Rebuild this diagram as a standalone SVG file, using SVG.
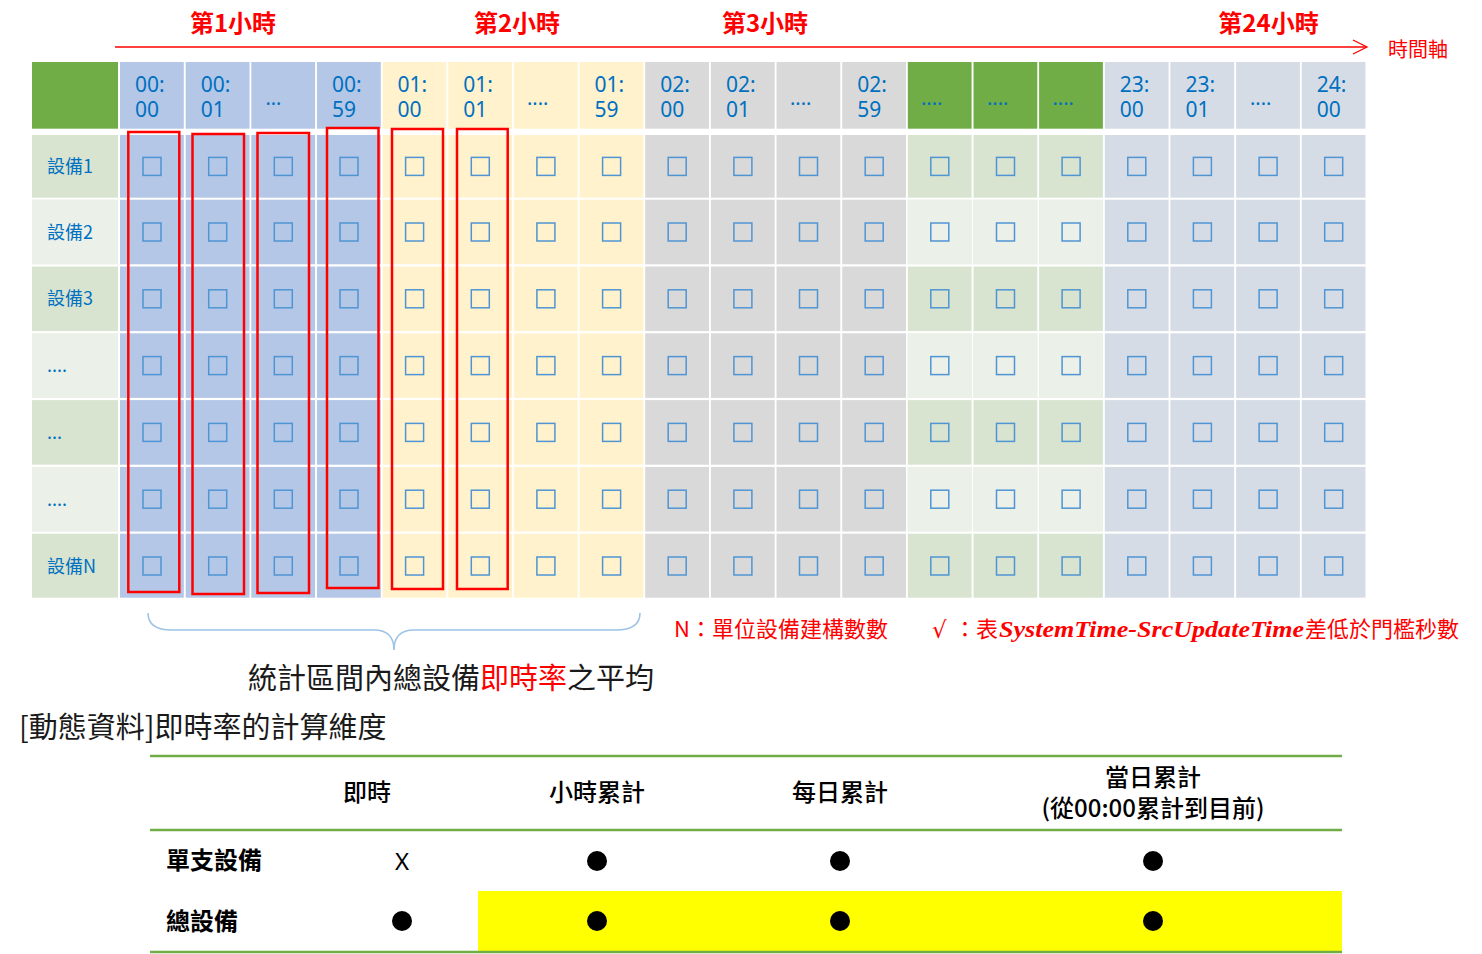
<svg xmlns="http://www.w3.org/2000/svg" xmlns:xlink="http://www.w3.org/1999/xlink" width="1482" height="954" viewBox="0 0 1482 954">
<style>
.cjk{font-family:"Noto Sans CJK TC","Noto Sans",sans-serif}
.hd{font-family:"Noto Sans","Noto Sans CJK TC",sans-serif;font-size:21px;fill:#0070C0}
.dots{font-family:"Noto Sans",sans-serif;font-size:20px;fill:#0070C0}
.lbl{font-family:"Noto Sans CJK TC","Noto Sans",sans-serif;font-size:18px;fill:#0070C0}
.hour{font-family:"Noto Sans CJK TC",sans-serif;font-size:24px;font-weight:bold;fill:#FF0000;text-anchor:middle}
.red{fill:#FF0000}
.b{fill:#B4C7E7}.y{fill:#FFF2CC}.g{fill:#D9D9D9}.s{fill:#D6DCE5}.gh{fill:#70AD47}.gd{fill:#D8E4D0}.gl{fill:#EBF0E9}
.cb{fill:none;stroke:#4F95D3;stroke-width:1.5}
.rb{fill:none;stroke:#FF0000;stroke-width:2.5}
.th{font-family:"Noto Sans CJK TC",sans-serif;font-size:24px;font-weight:500;fill:#000;text-anchor:middle}
.rl{font-family:"Noto Sans CJK TC",sans-serif;font-size:24px;font-weight:bold;fill:#000}
.gline{stroke:#70AD47;stroke-width:2.5}
</style>
<defs>
<g id="cbcol">
<rect class="cb" x="-9" y="157.4" width="18" height="18"/>
<rect class="cb" x="-9" y="223" width="18" height="18"/>
<rect class="cb" x="-9" y="289.8" width="18" height="18"/>
<rect class="cb" x="-9" y="356.6" width="18" height="18"/>
<rect class="cb" x="-9" y="423.4" width="18" height="18"/>
<rect class="cb" x="-9" y="490.2" width="18" height="18"/>
<rect class="cb" x="-9" y="557" width="18" height="18"/>
</g>
</defs>
<rect width="1482" height="954" fill="#FFFFFF"/>

<!-- time axis -->
<g id="axis">
<text class="hour" x="233" y="32">第1小時</text>
<text class="hour" x="517" y="32">第2小時</text>
<text class="hour" x="765" y="32">第3小時</text>
<text class="hour" x="1268.5" y="32">第24小時</text>
<line x1="115" y1="47" x2="1366" y2="47" stroke="#FF0000" stroke-width="1.3"/>
<path d="M1353,40 L1367,47 L1353,54" fill="none" stroke="#FF0000" stroke-width="1.3"/>
<text class="cjk red" x="1388" y="57" font-size="20">時間軸</text>
</g>

<!-- header row -->
<g id="header">
<rect class="gh" x="32" y="62" width="86" height="66.7"/>
<rect class="b" x="120" y="62" width="63.8" height="66.7"/>
<rect class="b" x="185.7" y="62" width="63.8" height="66.7"/>
<rect class="b" x="251.3" y="62" width="63.8" height="66.7"/>
<rect class="b" x="317" y="62" width="63.8" height="66.7"/>
<rect class="y" x="382.6" y="62" width="63.8" height="66.7"/>
<rect class="y" x="448.3" y="62" width="63.8" height="66.7"/>
<rect class="y" x="513.9" y="62" width="63.8" height="66.7"/>
<rect class="y" x="579.6" y="62" width="63.8" height="66.7"/>
<rect class="g" x="645.2" y="62" width="63.8" height="66.7"/>
<rect class="g" x="710.9" y="62" width="63.8" height="66.7"/>
<rect class="g" x="776.5" y="62" width="63.8" height="66.7"/>
<rect class="g" x="842.2" y="62" width="63.8" height="66.7"/>
<rect class="gh" x="907.8" y="62" width="63.8" height="66.7"/>
<rect class="gh" x="973.5" y="62" width="63.8" height="66.7"/>
<rect class="gh" x="1039.1" y="62" width="63.8" height="66.7"/>
<rect class="s" x="1104.8" y="62" width="63.8" height="66.7"/>
<rect class="s" x="1170.4" y="62" width="63.8" height="66.7"/>
<rect class="s" x="1236.1" y="62" width="63.8" height="66.7"/>
<rect class="s" x="1301.7" y="62" width="63.8" height="66.7"/>
<text class="hd" x="135" y="92">00:</text><text class="hd" x="135" y="117">00</text>
<text class="hd" x="200.7" y="92">00:</text><text class="hd" x="200.7" y="117">01</text>
<text class="dots" x="265.5" y="105">…</text>
<text class="hd" x="332" y="92">00:</text><text class="hd" x="332" y="117">59</text>
<text class="hd" x="397.6" y="92">01:</text><text class="hd" x="397.6" y="117">00</text>
<text class="hd" x="463.3" y="92">01:</text><text class="hd" x="463.3" y="117">01</text>
<text class="dots" x="527" y="105">....</text>
<text class="hd" x="594.6" y="92">01:</text><text class="hd" x="594.6" y="117">59</text>
<text class="hd" x="660.2" y="92">02:</text><text class="hd" x="660.2" y="117">00</text>
<text class="hd" x="725.9" y="92">02:</text><text class="hd" x="725.9" y="117">01</text>
<text class="dots" x="790" y="105">....</text>
<text class="hd" x="857.2" y="92">02:</text><text class="hd" x="857.2" y="117">59</text>
<text class="dots" x="921" y="105">....</text>
<text class="dots" x="987" y="105">....</text>
<text class="dots" x="1052.5" y="105">....</text>
<text class="hd" x="1119.8" y="92">23:</text><text class="hd" x="1119.8" y="117">00</text>
<text class="hd" x="1185.4" y="92">23:</text><text class="hd" x="1185.4" y="117">01</text>
<text class="dots" x="1250" y="105">....</text>
<text class="hd" x="1316.7" y="92">24:</text><text class="hd" x="1316.7" y="117">00</text>
</g>

<!-- body grid -->
<g id="body">
<rect class="gd" x="32" y="135" width="86" height="462.7"/>
<rect class="b" x="120" y="135" width="63.8" height="462.7"/>
<rect class="b" x="185.7" y="135" width="63.8" height="462.7"/>
<rect class="b" x="251.3" y="135" width="63.8" height="462.7"/>
<rect class="b" x="317" y="135" width="63.8" height="462.7"/>
<rect class="y" x="382.6" y="135" width="63.8" height="462.7"/>
<rect class="y" x="448.3" y="135" width="63.8" height="462.7"/>
<rect class="y" x="513.9" y="135" width="63.8" height="462.7"/>
<rect class="y" x="579.6" y="135" width="63.8" height="462.7"/>
<rect class="g" x="645.2" y="135" width="63.8" height="462.7"/>
<rect class="g" x="710.9" y="135" width="63.8" height="462.7"/>
<rect class="g" x="776.5" y="135" width="63.8" height="462.7"/>
<rect class="g" x="842.2" y="135" width="63.8" height="462.7"/>
<rect class="gd" x="907.8" y="135" width="63.8" height="462.7"/>
<rect class="gd" x="973.5" y="135" width="63.8" height="462.7"/>
<rect class="gd" x="1039.1" y="135" width="63.8" height="462.7"/>
<rect class="s" x="1104.8" y="135" width="63.8" height="462.7"/>
<rect class="s" x="1170.4" y="135" width="63.8" height="462.7"/>
<rect class="s" x="1236.1" y="135" width="63.8" height="462.7"/>
<rect class="s" x="1301.7" y="135" width="63.8" height="462.7"/>
<!-- light banded rows -->
<rect class="gl" x="32" y="199.7" width="86" height="64.6"/>
<rect class="gl" x="907.8" y="199.7" width="63.8" height="64.6"/>
<rect class="gl" x="973.5" y="199.7" width="63.8" height="64.6"/>
<rect class="gl" x="1039.1" y="199.7" width="63.8" height="64.6"/>
<rect class="gl" x="32" y="333.3" width="86" height="64.6"/>
<rect class="gl" x="907.8" y="333.3" width="63.8" height="64.6"/>
<rect class="gl" x="973.5" y="333.3" width="63.8" height="64.6"/>
<rect class="gl" x="1039.1" y="333.3" width="63.8" height="64.6"/>
<rect class="gl" x="32" y="466.9" width="86" height="64.6"/>
<rect class="gl" x="907.8" y="466.9" width="63.8" height="64.6"/>
<rect class="gl" x="973.5" y="466.9" width="63.8" height="64.6"/>
<rect class="gl" x="1039.1" y="466.9" width="63.8" height="64.6"/>
<!-- row gaps -->
<g fill="#FFFFFF">
<rect x="30" y="197.7" width="1340" height="2"/>
<rect x="30" y="264.3" width="1340" height="2.2"/>
<rect x="30" y="331.1" width="1340" height="2.2"/>
<rect x="30" y="397.9" width="1340" height="2.2"/>
<rect x="30" y="464.7" width="1340" height="2.2"/>
<rect x="30" y="531.5" width="1340" height="2.2"/>
</g>
<!-- row labels -->
<text class="lbl" x="47" y="172.5">設備1</text>
<text class="lbl" x="47" y="238.5">設備2</text>
<text class="lbl" x="47" y="305">設備3</text>
<text class="lbl" x="47" y="372">....</text>
<text class="lbl" x="47" y="439">...</text>
<text class="lbl" x="47" y="505.5">....</text>
<text class="lbl" x="47" y="572.5">設備N</text>
<!-- checkboxes -->
<use xlink:href="#cbcol" x="152"/>
<use xlink:href="#cbcol" x="217.7"/>
<use xlink:href="#cbcol" x="283.3"/>
<use xlink:href="#cbcol" x="349"/>
<use xlink:href="#cbcol" x="414.6"/>
<use xlink:href="#cbcol" x="480.3"/>
<use xlink:href="#cbcol" x="545.9"/>
<use xlink:href="#cbcol" x="611.6"/>
<use xlink:href="#cbcol" x="677.2"/>
<use xlink:href="#cbcol" x="742.9"/>
<use xlink:href="#cbcol" x="808.5"/>
<use xlink:href="#cbcol" x="874.2"/>
<use xlink:href="#cbcol" x="939.8"/>
<use xlink:href="#cbcol" x="1005.5"/>
<use xlink:href="#cbcol" x="1071.1"/>
<use xlink:href="#cbcol" x="1136.8"/>
<use xlink:href="#cbcol" x="1202.4"/>
<use xlink:href="#cbcol" x="1268.1"/>
<use xlink:href="#cbcol" x="1333.7"/>
</g>

<!-- red selection boxes -->
<g id="selections">
<rect class="rb" x="128.3" y="132" width="51" height="460"/>
<rect class="rb" x="192.5" y="134" width="51.5" height="460"/>
<rect class="rb" x="257.5" y="133" width="51.5" height="460"/>
<rect class="rb" x="327" y="128" width="51.5" height="460"/>
<rect class="rb" x="392" y="129" width="51" height="460"/>
<rect class="rb" x="457" y="129" width="50.7" height="460"/>
</g>

<!-- brace and notes -->
<g id="brace">
<path d="M148,613 Q148,630 172,630 L374,630 Q394,630 394,650 Q394,630 414,630 L616,630 Q640,630 640,613" fill="none" stroke="#9DC3E6" stroke-width="1.6"/>
<text class="cjk" x="248" y="689" font-size="29" fill="#1A1A1A">統計區間內總設備<tspan fill="#FF0000">即時率</tspan>之平均</text>
</g>
<g id="legend">
<text class="cjk red" x="674" y="637" font-size="22">N：單位設備建構數數</text>
<text class="red" x="932" y="638" font-family="'DejaVu Sans',sans-serif" font-size="23">√</text>
<text class="cjk red" x="954" y="637" font-size="22">：表</text>
<text class="red" x="999" y="637" font-family="'Liberation Serif',serif" font-size="23" font-weight="bold" font-style="italic" textLength="305" lengthAdjust="spacingAndGlyphs">SystemTime-SrcUpdateTime</text>
<text class="cjk red" x="1305" y="637" font-size="22">差低於門檻秒數</text>
</g>

<text id="title" class="cjk" x="19" y="738" font-size="29" fill="#1A1A1A">[動態資料]即時率的計算維度</text>

<!-- table -->
<g id="table">
<rect x="478" y="891" width="864" height="60" fill="#FFFF00"/>
<line class="gline" x1="150" y1="756" x2="1342" y2="756"/>
<line class="gline" x1="150" y1="830" x2="1342" y2="830"/>
<line class="gline" x1="150" y1="952" x2="1342" y2="952"/>
<text class="th" x="367" y="801">即時</text>
<text class="th" x="597" y="801">小時累計</text>
<text class="th" x="840" y="801">每日累計</text>
<text class="th" x="1153" y="786">當日累計</text>
<text class="th" x="1153" y="817">(從00:00累計到目前)</text>
<text class="rl" x="166" y="869">單支設備</text>
<text class="rl" x="166" y="930">總設備</text>
<text x="402" y="870" font-family="'Noto Sans',sans-serif" font-size="24" text-anchor="middle" fill="#000">X</text>
<g fill="#000">
<circle cx="597" cy="861" r="10"/>
<circle cx="840" cy="861" r="10"/>
<circle cx="1153" cy="861" r="10"/>
<circle cx="402" cy="921" r="10"/>
<circle cx="597" cy="921" r="10"/>
<circle cx="840" cy="921" r="10"/>
<circle cx="1153" cy="921" r="10"/>
</g>
</g>
</svg>
